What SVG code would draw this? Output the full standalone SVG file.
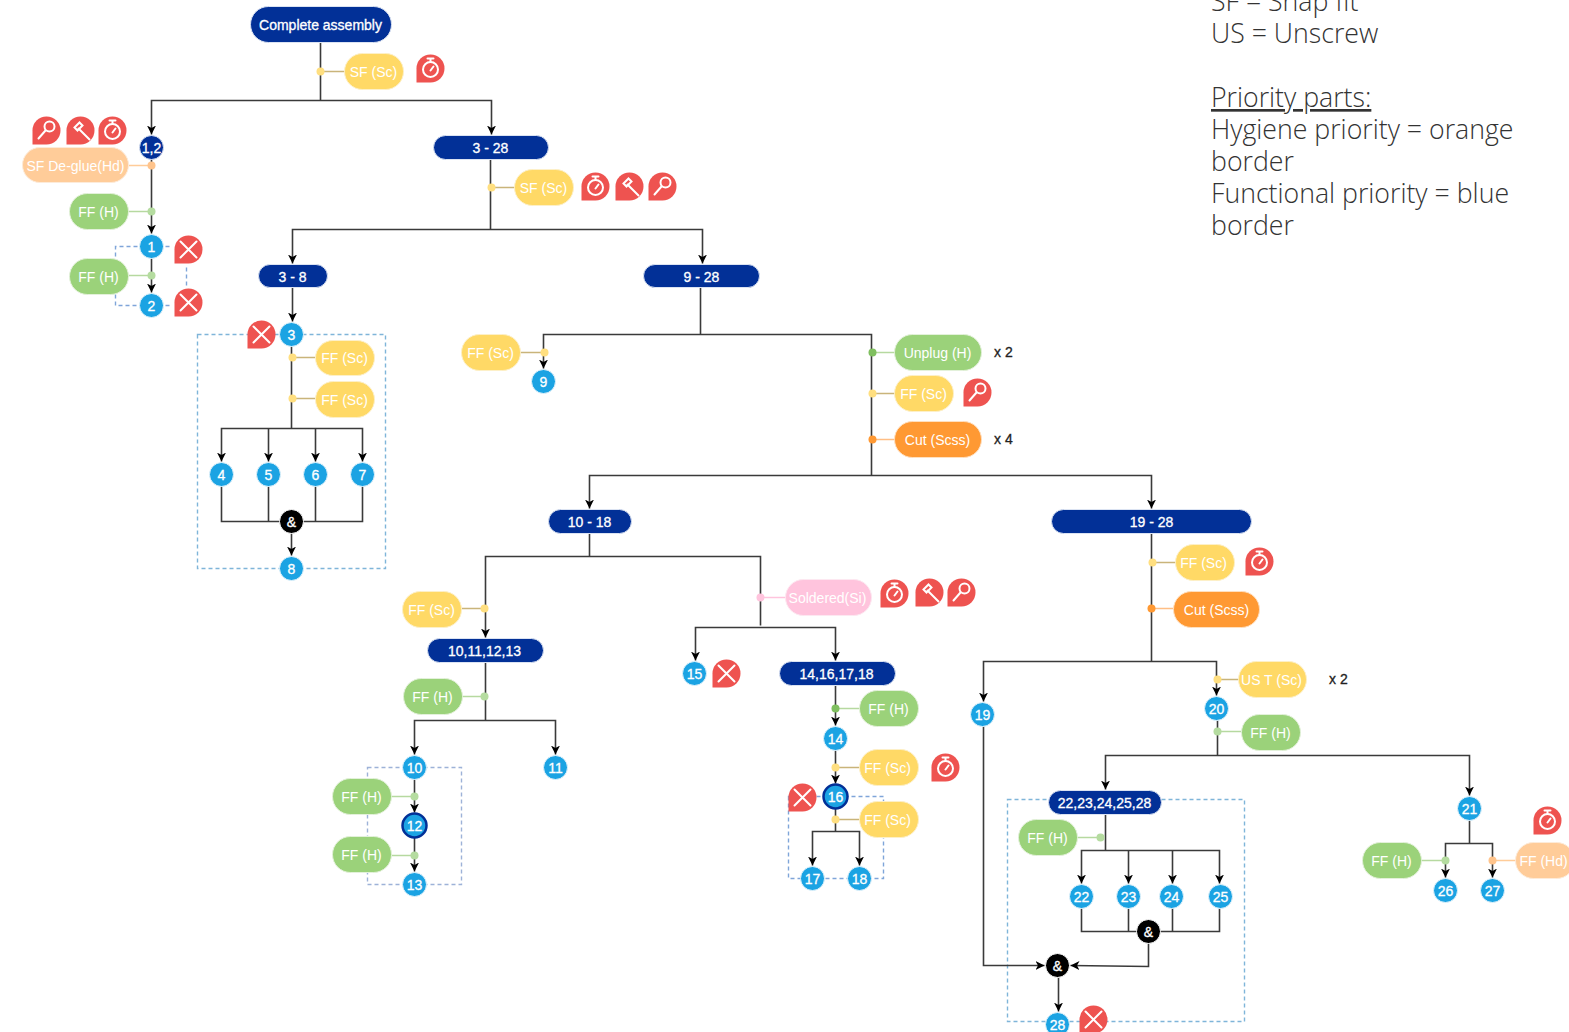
<svg xmlns="http://www.w3.org/2000/svg" width="1569" height="1032" viewBox="0 0 1569 1032">
<style>
text{font-family:"Liberation Sans",Arial,sans-serif;text-anchor:middle}
.l{font-size:14px;fill:#fff}
.d{font-size:14px;fill:#fff;stroke:#fff;stroke-width:.3}
.x{font-size:14px;fill:#222;text-anchor:start;stroke:#222;stroke-width:.3}
.lg{font-family:"Open Sans",sans-serif;font-weight:300;font-size:26.7px;fill:#333;text-anchor:start}
.dk{fill:#023097;stroke:#dbe3f2;stroke-width:1}
.bl{fill:#1ba3e3;stroke:#e4f3fb;stroke-width:1}
.pb{fill:#1ba3e3;stroke:#023097;stroke-width:2.5}
.bk{fill:#000;stroke:#fff;stroke-width:1}
.g{fill:#9bd27a;stroke:#e3f1da;stroke-width:1}
.y{fill:#ffd966;stroke:#fdf0c8;stroke-width:1}
.o{fill:#ffcc99;stroke:#fdebd9;stroke-width:1}
.or{fill:#ff9933;stroke:#ffe0c0;stroke-width:1}
.p{fill:#ffc4dd;stroke:#fde8f1;stroke-width:1}
.cn path{fill:none;stroke:#3a3a3a;stroke-width:1.6}
.ah{marker-start:url(#a);marker-end:url(#a)}
.ae{marker-end:url(#a)}
.dash path{fill:none;stroke-width:1.4;stroke-dasharray:4 3}
.lnk path{fill:none;stroke-width:1.5}
.ic{stroke:#fff;stroke-width:2;fill:none;stroke-linecap:round}
</style>
<defs>
<marker id="a" markerWidth="10" markerHeight="10" refX="9" refY="4.5" orient="auto-start-reverse" markerUnits="userSpaceOnUse"><path d="M0 0L9 4.5L0 9L2.5 4.5Z" fill="#000"/></marker>
<g id="drop"><path d="M-14 14V0A14 14 0 1 1 0 14Z" fill="#ee5350"/></g>
<g id="xi"><use href="#drop"/><path class="ic" d="M-8-8L8 8M8-8L-8 8"/></g>
<g id="cl"><use href="#drop"/><circle class="ic" cx="0" cy="1" r="7.5"/><path class="ic" d="M-3-10H3M0-10V-7M0 2L3-2"/></g>
<g id="mg"><use href="#drop"/><circle class="ic" cx="3" cy="-4" r="5"/><path class="ic" d="M-1 0L-8 8"/></g>
<g id="hm"><use href="#drop"/><path class="ic" d="M-6-3L-1-8L2-5L-3 0ZM-2-2L9 9"/></g>
</defs>

<g id="dashed" class="dash" transform="translate(.5 .5)">
<path stroke="#7fb5d9" d="M197 334H385V568H197Z"/>
<path stroke="#7fa5d9" d="M151 246H115V305H151M151 246H169M151 305H169M186 267V287"/>
<path stroke="#9db2d8" d="M367 767H461V884H367Z"/>
<path stroke="#7fa5d9" d="M788 796V878H883V796Z"/>
<path stroke="#7fb5d9" d="M1007 799H1244V1021H1007Z"/>
</g>

<g id="connectors" class="cn" transform="translate(.5 .5)">
<path d="M320 42V100"/><path class="ah" d="M151 134V100H491V134"/>
<path class="ae" d="M151 159V233"/><path class="ae" d="M151 258V292"/>
<path d="M490 159V229"/><path class="ah" d="M292 263V229H702V263"/>
<path class="ae" d="M292 287V321"/>
<path d="M291 346V428"/>
<path class="ah" d="M221 461V428H362V461"/><path class="ae" d="M268 428V461"/><path class="ae" d="M315 428V461"/>
<path d="M221 486V521H362V486M268 486V521M315 486V521"/>
<path class="ae" d="M291 533V555"/>
<path d="M700 287V334"/><path class="ae" d="M871 475V334H543V368"/>
<path class="ah" d="M589 508V475H1151V508"/>
<path d="M589 533V556"/><path d="M760 625V556H485V637" class="ae"/>
<path class="ah" d="M695 660V627H835V660"/>
<path d="M485 662V720"/><path class="ah" d="M414 754V720H555V754"/>
<path class="ae" d="M414 779V812"/><path class="ae" d="M414 837V871"/>
<path class="ae" d="M835 685V725"/><path class="ae" d="M835 750V783"/>
<path d="M835 808V831"/><path class="ah" d="M812 865V831H859V865"/>
<path d="M1151 533V661"/><path class="ah" d="M983 701V661H1216V695"/>
<path d="M1217 720V755"/><path class="ah" d="M1105 789V755H1469V795"/>
<path d="M1105 814V850"/><path class="ah" d="M1081 883V850H1219V883"/><path class="ae" d="M1128 850V883"/><path class="ae" d="M1172 850V883"/>
<path d="M1081 908V931H1219V908M1128 908V931M1172 908V931"/>
<path class="ae" d="M1148 943V966L1070 965"/>
<path class="ae" d="M983 726V965H1044"/>
<path class="ae" d="M1058 977V1011"/>
<path d="M1469 820V843"/><path class="ah" d="M1445 877V843H1492V877"/>
</g>

<g id="links" class="lnk" transform="translate(.5 .5)">
<path stroke="#c9b47a" d="M320 71H344M490 187H514M291 357H315M291 398H315M543 352H520M871 393H894M484 608H461M835 767H859M835 819H859M1151 562H1175M1216 679H1238"/>
<path stroke="#b6d9a0" d="M151 211H128M151 275H128M871 352H894M484 696H462M414 796H391M414 855H391M835 708H859M1216 731H1241M1100 837H1077M1444 860H1421"/>
<path stroke="#ffcc99" d="M151 165H128M1492 860H1515"/>
<path stroke="#ffbe85" d="M871 439H894M1151 608H1173"/>
<path stroke="#ffc4dd" d="M760 597H785"/>
</g>

<g id="dots" transform="translate(.5 .5)">
<g fill="#ffdf80"><circle cx="320" cy="71" r="4"/><circle cx="491" cy="187" r="4"/><circle cx="292" cy="357" r="4"/><circle cx="292" cy="398" r="4"/><circle cx="544" cy="352" r="4"/><circle cx="872" cy="393" r="4"/><circle cx="484" cy="608" r="4"/><circle cx="835" cy="767" r="4"/><circle cx="835" cy="819" r="4"/><circle cx="1152" cy="562" r="4"/><circle cx="1217" cy="679" r="4"/></g>
<g fill="#b5dca0"><circle cx="151" cy="211" r="4"/><circle cx="151" cy="275" r="4"/><circle cx="484" cy="696" r="4"/><circle cx="414" cy="796" r="4"/><circle cx="414" cy="855" r="4"/><circle cx="1217" cy="731" r="4"/><circle cx="1100" cy="837" r="4"/><circle cx="1445" cy="860" r="4"/></g>
<g fill="#7fbf5f"><circle cx="872" cy="352" r="4"/><circle cx="835" cy="708" r="4"/></g>
<g fill="#ffc48c"><circle cx="151" cy="165" r="4"/><circle cx="1492" cy="860" r="4"/></g>
<g fill="#ff9933"><circle cx="872" cy="439" r="4"/><circle cx="1151" cy="608" r="4"/></g>
<circle cx="760" cy="597" r="4" fill="#ffc4dd"/>
</g>

<g id="nodes" transform="translate(.5 .5)">
<g id="n-root"><rect class="dk" x="250" y="6" width="141" height="36" rx="18"/><text class="d" x="320" y="29">Complete assembly</text></g>
<g id="n-3-28"><rect class="dk" x="433" y="135" width="115" height="24" rx="12"/><text class="d" x="490" y="152">3 - 28</text></g>
<g id="n-3-8"><rect class="dk" x="258" y="264" width="69" height="23" rx="11.5"/><text class="d" x="292" y="281">3 - 8</text></g>
<g id="n-9-28"><rect class="dk" x="643" y="264" width="116" height="23" rx="11.5"/><text class="d" x="701" y="281">9 - 28</text></g>
<g id="n-10-18"><rect class="dk" x="548" y="509" width="83" height="24" rx="12"/><text class="d" x="589" y="526">10 - 18</text></g>
<g id="n-19-28"><rect class="dk" x="1051" y="509" width="200" height="24" rx="12"/><text class="d" x="1151" y="526">19 - 28</text></g>
<g id="n-10-13"><rect class="dk" x="427" y="638" width="116" height="24" rx="12"/><text class="d" x="484" y="655">10,11,12,13</text></g>
<g id="n-14-18"><rect class="dk" x="779" y="661" width="116" height="24" rx="12"/><text class="d" x="836" y="678">14,16,17,18</text></g>
<g id="n-22-28"><rect class="dk" x="1048" y="790" width="113" height="24" rx="12"/><text class="d" x="1104" y="807">22,23,24,25,28</text></g>

<g id="c-1-2"><circle class="dk" cx="151" cy="147" r="12"/><text class="d" x="151" y="152">1,2</text></g>
<g id="c-1"><circle class="bl" cx="151" cy="246" r="12"/><text class="d" x="151" y="251">1</text></g>
<g id="c-2"><circle class="bl" cx="151" cy="305" r="12"/><text class="d" x="151" y="310">2</text></g>
<g id="c-3"><circle class="bl" cx="291" cy="334" r="12"/><text class="d" x="291" y="339">3</text></g>
<g id="c-4"><circle class="bl" cx="221" cy="474" r="12"/><text class="d" x="221" y="479">4</text></g>
<g id="c-5"><circle class="bl" cx="268" cy="474" r="12"/><text class="d" x="268" y="479">5</text></g>
<g id="c-6"><circle class="bl" cx="315" cy="474" r="12"/><text class="d" x="315" y="479">6</text></g>
<g id="c-7"><circle class="bl" cx="362" cy="474" r="12"/><text class="d" x="362" y="479">7</text></g>
<g id="c-and1"><circle class="bk" cx="291" cy="521" r="12"/><text class="d" x="291" y="526">&amp;</text></g>
<g id="c-8"><circle class="bl" cx="291" cy="568" r="12"/><text class="d" x="291" y="573">8</text></g>
<g id="c-9"><circle class="bl" cx="543" cy="381" r="12"/><text class="d" x="543" y="386">9</text></g>
<g id="c-10"><circle class="bl" cx="414" cy="767" r="12"/><text class="d" x="414" y="772">10</text></g>
<g id="c-11"><circle class="bl" cx="555" cy="767" r="12"/><text class="d" x="555" y="772">11</text></g>
<g id="c-12"><circle class="pb" cx="414" cy="825" r="12"/><text class="d" x="414" y="830">12</text></g>
<g id="c-13"><circle class="bl" cx="414" cy="884" r="12"/><text class="d" x="414" y="889">13</text></g>
<g id="c-15"><circle class="bl" cx="694" cy="673" r="12"/><text class="d" x="694" y="678">15</text></g>
<g id="c-14"><circle class="bl" cx="835" cy="738" r="12"/><text class="d" x="835" y="743">14</text></g>
<g id="c-16"><circle class="pb" cx="835" cy="796" r="12"/><text class="d" x="835" y="801">16</text></g>
<g id="c-17"><circle class="bl" cx="812" cy="878" r="12"/><text class="d" x="812" y="883">17</text></g>
<g id="c-18"><circle class="bl" cx="859" cy="878" r="12"/><text class="d" x="859" y="883">18</text></g>
<g id="c-19"><circle class="bl" cx="982" cy="714" r="12"/><text class="d" x="982" y="719">19</text></g>
<g id="c-20"><circle class="bl" cx="1216" cy="708" r="12"/><text class="d" x="1216" y="713">20</text></g>
<g id="c-21"><circle class="bl" cx="1469" cy="808" r="12"/><text class="d" x="1469" y="813">21</text></g>
<g id="c-22"><circle class="bl" cx="1081" cy="896" r="12"/><text class="d" x="1081" y="901">22</text></g>
<g id="c-23"><circle class="bl" cx="1128" cy="896" r="12"/><text class="d" x="1128" y="901">23</text></g>
<g id="c-24"><circle class="bl" cx="1171" cy="896" r="12"/><text class="d" x="1171" y="901">24</text></g>
<g id="c-25"><circle class="bl" cx="1220" cy="896" r="12"/><text class="d" x="1220" y="901">25</text></g>
<g id="c-and2"><circle class="bk" cx="1148" cy="931" r="12"/><text class="d" x="1148" y="936">&amp;</text></g>
<g id="c-and3"><circle class="bk" cx="1057" cy="965" r="12"/><text class="d" x="1057" y="970">&amp;</text></g>
<g id="c-28"><circle class="bl" cx="1057" cy="1024" r="12"/><text class="d" x="1057" y="1029">28</text></g>
<g id="c-26"><circle class="bl" cx="1445" cy="890" r="12"/><text class="d" x="1445" y="895">26</text></g>
<g id="c-27"><circle class="bl" cx="1492" cy="890" r="12"/><text class="d" x="1492" y="895">27</text></g>

<g id="p1"><rect class="y" x="344" y="53" width="59" height="36" rx="18"/><text class="l" x="373" y="76">SF (Sc)</text></g>
<g id="p2"><rect class="o" x="22" y="147" width="106" height="35" rx="17.5"/><text class="l" x="75" y="170">SF De-glue(Hd)</text></g>
<g id="p3"><rect class="g" x="69" y="193" width="59" height="36" rx="18"/><text class="l" x="98" y="216">FF (H)</text></g>
<g id="p4"><rect class="g" x="69" y="258" width="59" height="36" rx="18"/><text class="l" x="98" y="281">FF (H)</text></g>
<g id="p5"><rect class="y" x="514" y="169" width="59" height="36" rx="18"/><text class="l" x="543" y="192">SF (Sc)</text></g>
<g id="p6"><rect class="y" x="315" y="340" width="59" height="35" rx="17.5"/><text class="l" x="344" y="362">FF (Sc)</text></g>
<g id="p7"><rect class="y" x="315" y="381" width="59" height="36" rx="18"/><text class="l" x="344" y="404">FF (Sc)</text></g>
<g id="p8"><rect class="y" x="461" y="334" width="59" height="36" rx="18"/><text class="l" x="490" y="357">FF (Sc)</text></g>
<g id="p9"><rect class="g" x="894" y="334" width="87" height="36" rx="18"/><text class="l" x="937" y="357">Unplug (H)</text></g>
<g id="p10"><rect class="y" x="894" y="375" width="59" height="36" rx="18"/><text class="l" x="923" y="398">FF (Sc)</text></g>
<g id="p11"><rect class="or" x="894" y="421" width="87" height="36" rx="18"/><text class="l" x="937" y="444">Cut (Scss)</text></g>
<g id="p12"><rect class="y" x="402" y="591" width="59" height="36" rx="18"/><text class="l" x="431" y="614">FF (Sc)</text></g>
<g id="p13"><rect class="g" x="403" y="678" width="59" height="36" rx="18"/><text class="l" x="432" y="701">FF (H)</text></g>
<g id="p14"><rect class="p" x="785" y="579" width="86" height="36" rx="18"/><text class="l" x="827" y="602">Soldered(Si)</text></g>
<g id="p15"><rect class="g" x="859" y="690" width="59" height="36" rx="18"/><text class="l" x="888" y="713">FF (H)</text></g>
<g id="p16"><rect class="y" x="859" y="749" width="59" height="36" rx="18"/><text class="l" x="887" y="772">FF (Sc)</text></g>
<g id="p17"><rect class="y" x="859" y="801" width="59" height="36" rx="18"/><text class="l" x="887" y="824">FF (Sc)</text></g>
<g id="p18"><rect class="g" x="332" y="778" width="59" height="36" rx="18"/><text class="l" x="361" y="801">FF (H)</text></g>
<g id="p19"><rect class="g" x="332" y="836" width="59" height="36" rx="18"/><text class="l" x="361" y="859">FF (H)</text></g>
<g id="p20"><rect class="y" x="1175" y="544" width="59" height="36" rx="18"/><text class="l" x="1203" y="567">FF (Sc)</text></g>
<g id="p21"><rect class="or" x="1173" y="591" width="86" height="36" rx="18"/><text class="l" x="1216" y="614">Cut (Scss)</text></g>
<g id="p22"><rect class="y" x="1238" y="661" width="68" height="36" rx="18"/><text class="l" x="1271" y="684">US T (Sc)</text></g>
<g id="p23"><rect class="g" x="1241" y="714" width="59" height="36" rx="18"/><text class="l" x="1270" y="737">FF (H)</text></g>
<g id="p24"><rect class="g" x="1018" y="819" width="59" height="36" rx="18"/><text class="l" x="1047" y="842">FF (H)</text></g>
<g id="p25"><rect class="g" x="1362" y="842" width="59" height="36" rx="18"/><text class="l" x="1391" y="865">FF (H)</text></g>
<g id="p26"><rect class="o" x="1515" y="842" width="59" height="36" rx="18"/><text class="l" x="1543" y="865">FF (Hd)</text></g>
</g>

<g id="icons" transform="translate(.5 .5)">
<use href="#cl" x="430" y="68"/>
<use href="#mg" x="46" y="130"/><use href="#hm" x="80" y="130"/><use href="#cl" x="112" y="130"/>
<use href="#xi" x="188" y="249"/><use href="#xi" x="188" y="302"/><use href="#xi" x="261" y="334"/>
<use href="#cl" x="595" y="186"/><use href="#hm" x="629" y="186"/><use href="#mg" x="662" y="186"/>
<use href="#mg" x="977" y="392"/><use href="#cl" x="1259" y="561"/>
<use href="#cl" x="894" y="593"/><use href="#hm" x="929" y="592"/><use href="#mg" x="961" y="592"/>
<use href="#xi" x="726" y="673"/><use href="#cl" x="945" y="767"/><use href="#xi" x="802" y="797"/>
<use href="#cl" x="1547" y="820"/><use href="#xi" x="1093" y="1019"/>
</g>

<g id="counts">
<text class="x" x="994" y="357">x 2</text><text class="x" x="994" y="444">x 4</text><text class="x" x="1329" y="684">x 2</text>
</g>

<g id="legend">
<text class="lg" x="1211" y="11">SF = Snap fit</text>
<text class="lg" x="1211" y="43">US = Unscrew</text>
<text class="lg" x="1211" y="107" text-decoration="underline">Priority parts:</text>
<text class="lg" x="1211" y="139">Hygiene priority = orange</text>
<text class="lg" x="1211" y="171">border</text>
<text class="lg" x="1211" y="203">Functional priority = blue</text>
<text class="lg" x="1211" y="235">border</text>
</g>
</svg>
